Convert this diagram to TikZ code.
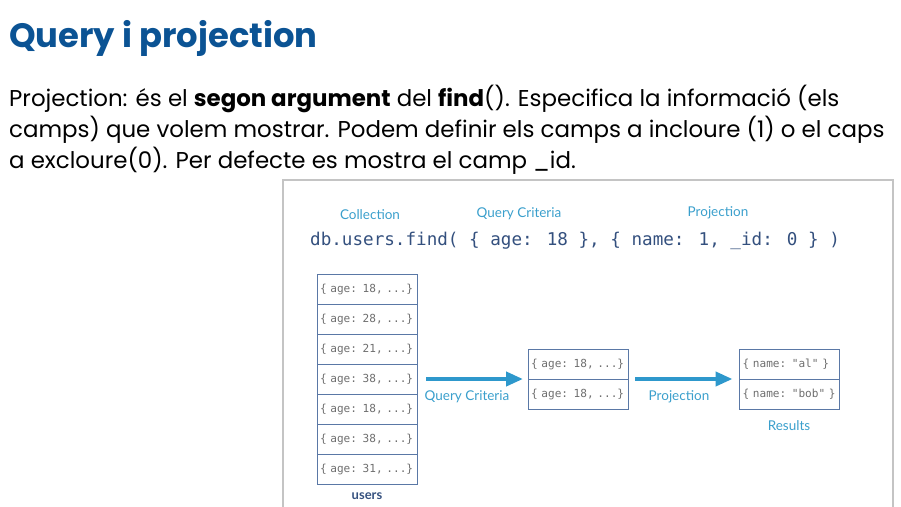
\documentclass[tikz,border=0pt]{standalone}
\usepackage{fontspec}
\setmainfont{Poppins}
\newfontfamily\codefont{DejaVu Sans Mono}
\newfontfamily\labelfont{Lato}
\usetikzlibrary{arrows.meta,positioning}

\definecolor{titleblue}{HTML}{0B5394}
\definecolor{labelblue}{HTML}{3A9FCC}
\definecolor{arrowblue}{HTML}{2E98CC}
\definecolor{codeblue}{HTML}{34507E}
\definecolor{cellborder}{HTML}{5A78A6}
\definecolor{celltext}{HTML}{6E6E6E}
\definecolor{framegray}{HTML}{C4C4C4}

\begin{document}
\begin{tikzpicture}[x=1pt, y=-1pt, node distance = 0mm and 5mm,
    textline/.style={anchor=base west, inner sep=0pt, font=\fontsize{22.9}{26}\selectfont},
    doccell/.style={rectangle, minimum height=30pt, minimum width=100pt, text width=94pt, align=left, inner sep=0pt, outer sep=0pt, draw=cellborder, line width=0.8pt, font=\codefont\fontsize{11.1}{13}\selectfont, text=celltext},
    tag/.style={inner sep=0pt, font=\labelfont\fontsize{13.5}{16}\selectfont, text=labelblue},
    flow/.style={line width=4pt, draw=arrowblue, -{Triangle[length=17pt,width=14pt]}},
   ]
    \useasboundingbox (0,0) rectangle (901,506);

    % heading and text
    \node (title) [anchor=base west, inner sep=0pt, text=titleblue, font=\bfseries\fontsize{33.8}{38}\selectfont] at (9,47) {Query i projection};
    \node (line1) [textline] at (9,106) {Projection: és el \textbf{segon argument} del \textbf{find}(). Especifica la informació (els};
    \node (line2) [textline] at (9,137) {camps) que volem mostrar. Podem definir els camps a incloure (1) o el caps};
    \node (line3) [textline] at (9,168) {a excloure(0). Per defecte es mostra el camp \_id.};

    % picture frame
    \draw[framegray, line width=1.5pt] (283,520) -- (283,180) -- (893,180) -- (893,520);

    % the call
    \node (coll) [tag] at (370,215) {Collection};
    \node (crit) [tag] at (519,214) {Query Criteria};
    \node (proj) [tag] at (718,213) {Projection};
    \node (call) [anchor=base west, inner sep=0pt, text=codeblue, font=\codefont\fontsize{17.6}{20}\selectfont] at (310,245) {db.users.find( \{ age: 18 \}, \{ name: 1, \_id: 0 \} )};

    % users collection
    \node (u1) [doccell] at (367,289) {\{ age: 18, ...\}};
    \node (u2) [doccell,below=of u1] {\{ age: 28, ...\}};
    \node (u3) [doccell,below=of u2] {\{ age: 21, ...\}};
    \node (u4) [doccell,below=of u3] {\{ age: 38, ...\}};
    \node (u5) [doccell,below=of u4] {\{ age: 18, ...\}};
    \node (u6) [doccell,below=of u5] {\{ age: 38, ...\}};
    \node (u7) [doccell,below=of u6] {\{ age: 31, ...\}};
    \node (users) [inner sep=0pt, text=codeblue, font=\labelfont\bfseries\fontsize{13}{16}\selectfont] at (367,496) {users};

    % matching documents
    \node (m1) [doccell] at (578,364) {\{ age: 18, ...\}};
    \node (m2) [doccell,below=of m1] {\{ age: 18, ...\}};

    % results
    \node (r1) [doccell] at (789.5,364) {\{ name: "al" \}};
    \node (r2) [doccell,below=of r1] {\{ name: "bob" \}};
    \node (res) [tag] at (789,426) {Results};

    \draw[flow, shorten <=9pt, shorten >=5pt] (u4.east) -- (m1.south west);
    \node (critlbl) [tag] at (467,397) {Query Criteria};
    \draw[flow, shorten <=7pt, shorten >=7pt] (m1.south east) -- (r1.south west);
    \node (projlbl) [tag] at (679,397) {Projection};
\end{tikzpicture}
\end{document}
